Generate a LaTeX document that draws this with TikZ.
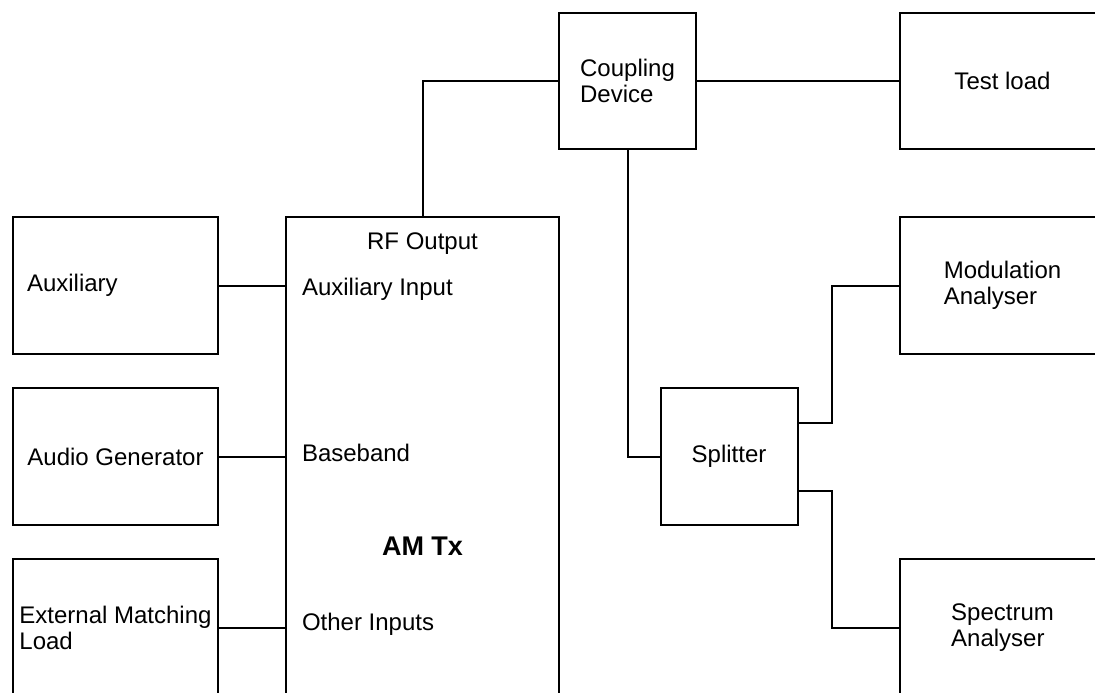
\documentclass[tikz,border=0pt]{standalone}
\usepackage{fontspec}
\setmainfont{Liberation Sans}
\usetikzlibrary{positioning}
\begin{document}
\begin{tikzpicture}[font=\fontsize{12}{13}\selectfont, line width=1pt]
  \tikzstyle{unit} = [rectangle, draw, outer sep=0, inner sep=2pt, align=left, minimum width=102.5pt, minimum height=68.5pt]
  \tikzstyle{small} = [unit, minimum width=68.5pt, minimum height=68pt]
  \tikzstyle{port} = [inner sep=0, anchor=west]

  \useasboundingbox (0,0) rectangle (547.5pt,-346pt);

  \node[unit, anchor=north west, text width=88.5pt, inner xsep=7pt] (aux) at (6.5pt,-108.5pt) {Auxiliary};
  \node[unit, below=17pt of aux]                                    (audio)   {Audio Generator};
  \node[unit, below=17pt of audio]                                  (ext)     {External Matching\\Load};
  \node[unit, minimum width=136.5pt, minimum height=239.5pt,
        below right=0pt and 34pt of aux.north east]                 (amtx)    {};
  \node[small, above right=34pt and 0pt of amtx.north east]         (coupler) {Coupling\\Device};
  \node[unit, minimum height=68pt, right=102pt of coupler]          (load)    {Test load};
  \node[small, minimum height=68.5pt,
        right=16.5pt of coupler.south |- audio.east]                (split)   {Splitter};
  \node[unit]                                  at (load |- aux)     (modan)   {Modulation\\Analyser};
  \node[unit]                                  at (load |- ext)     (specan)  {Spectrum\\Analyser};

  \node[inner sep=0, below=7.5pt of amtx.north]                     (rfout)   {RF Output};
  \node[port] at ([xshift=7.5pt, yshift=-2pt]amtx.west |- aux.east)  (auxin) {Auxiliary Input};
  \node[port] at ([xshift=7.5pt, yshift=2pt]amtx.west |- audio.east) (base)  {Baseband};
  \node[port] at ([xshift=7.5pt, yshift=1.5pt]amtx.west |- ext.east) (other) {Other Inputs};
  \node[font=\bfseries\fontsize{13.5}{16}\selectfont] at ([yshift=-45pt]amtx.center) (title) {AM Tx};

  \draw (aux.east)     -- (aux.east -| amtx.west);
  \draw (audio.east)   -- (audio.east -| amtx.west);
  \draw (ext.east)     -- (ext.east -| amtx.west);
  \draw (amtx.north)   |- (coupler.west);
  \draw (coupler.east) -- (load.west);
  \draw (coupler.south) |- (split.west);
  \draw ([yshift=17pt]split.east)  -- ++(17pt,0) |- (modan.west);
  \draw ([yshift=-17pt]split.east) -- ++(17pt,0) |- (specan.west);
\end{tikzpicture}
\end{document}
